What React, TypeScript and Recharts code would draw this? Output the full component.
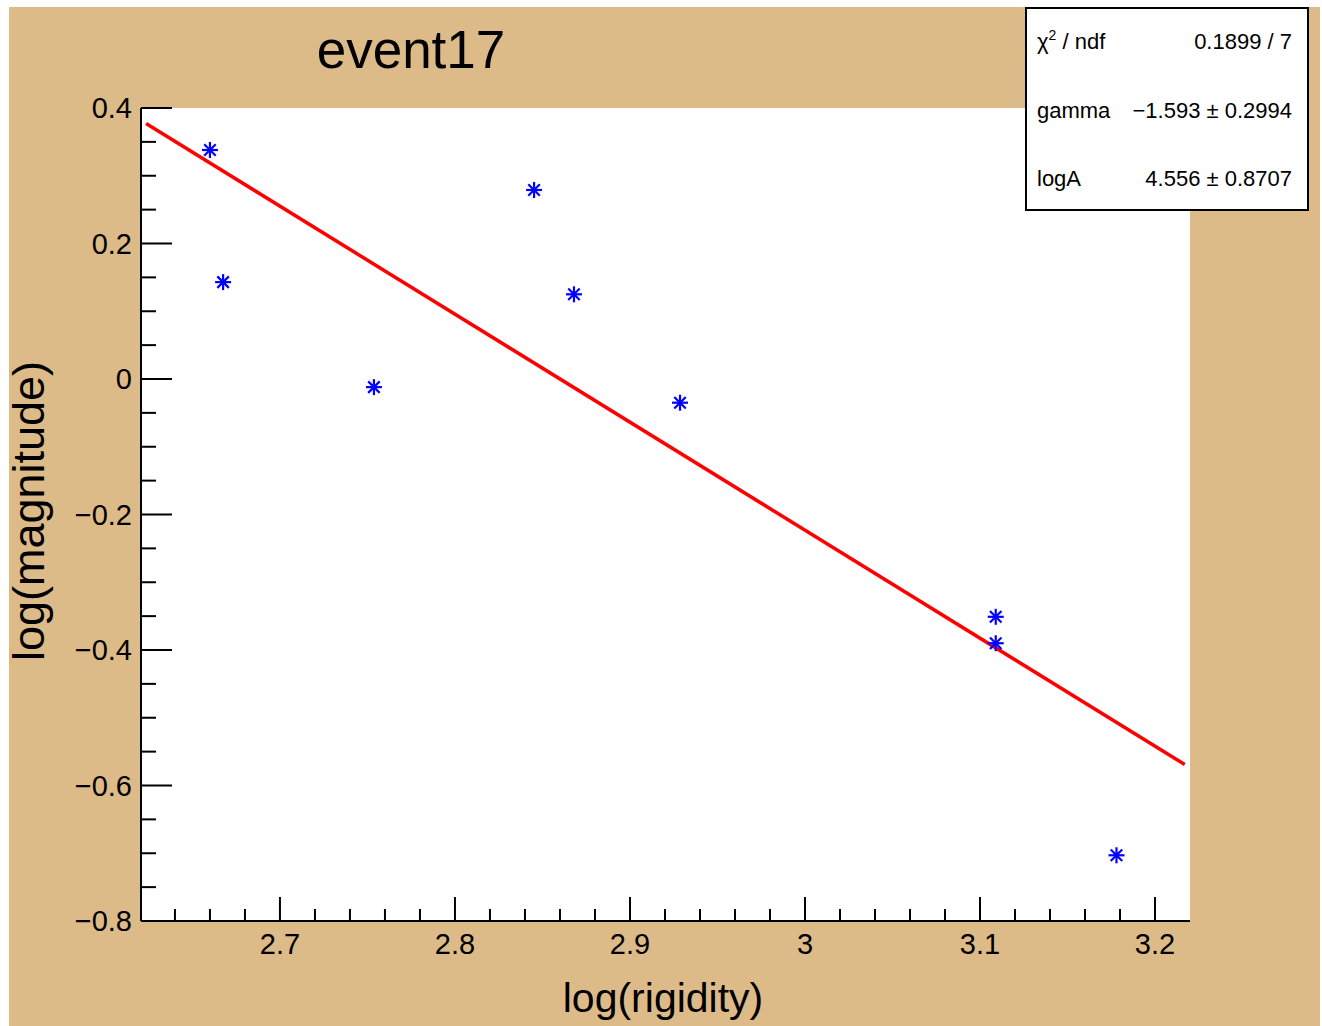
import { ScatterChart, Scatter, XAxis, YAxis, CartesianGrid } from "recharts";

// measured points: log(rigidity) vs log(magnitude)
const rigidity = [2.66, 2.6675, 2.7537, 2.8452, 2.868, 2.9286, 3.109, 3.109, 3.178];
const magnitude = [0.338, 0.143, -0.012, 0.279, 0.125, -0.035, -0.351, -0.39, -0.703];

// fitted line end points (gamma = -1.593, logA = 4.556)
const fitX = [2.6235, 3.217];
const fitY = [0.377, -0.569];

const xTicks = [
  2.64, 2.66, 2.68, 2.7, 2.72, 2.74, 2.76, 2.78, 2.8, 2.82, 2.84, 2.86, 2.88, 2.9, 2.92,
  2.94, 2.96, 2.98, 3.0, 3.02, 3.04, 3.06, 3.08, 3.1, 3.12, 3.14, 3.16, 3.18, 3.2,
];
const xMajor = [2.7, 2.8, 2.9, 3.0, 3.1, 3.2];
const xLabels = ["2.7", "2.8", "2.9", "3", "3.1", "3.2"];

const yTicks = [
  -0.8, -0.75, -0.7, -0.65, -0.6, -0.55, -0.5, -0.45, -0.4, -0.35, -0.3, -0.25, -0.2,
  -0.15, -0.1, -0.05, 0, 0.05, 0.1, 0.15, 0.2, 0.25, 0.3, 0.35, 0.4,
];
const yMajor = [-0.8, -0.6, -0.4, -0.2, 0, 0.2, 0.4];
const yLabels = ["\u22120.8", "\u22120.6", "\u22120.4", "\u22120.2", "0", "0.2", "0.4"];

const statNames = ["gamma", "logA"];
const statValues = ["\u22121.593 \u00b1 0.2994", "4.556 \u00b1 0.8707"];
const chi2 = "0.1899 / 7";

const points = rigidity.map((x, i) => ({ x, y: magnitude[i] }));
const fitLine = fitX.map((x, i) => ({ x, y: fitY[i] }));

const FONT = "'Liberation Sans', Arial, Helvetica, sans-serif";
const W = 1311;
const H = 1019;
const BG = "#dcbb89";

const findIdx = (list: number[], v: number) => list.findIndex((m) => Math.abs(m - v) < 1e-6);

const XTick = (props: any) => {
  const { x, y, payload } = props;
  const idx = findIdx(xMajor, payload.value);
  const len = idx >= 0 ? 24 : 12;
  return (
    <g>
      <line x1={x} x2={x} y1={y} y2={y - len} stroke="#000" strokeWidth={2} />
      {idx >= 0 && (
        <text x={x} y={y + 33} textAnchor="middle" fontSize={29} fontFamily={FONT} fill="#000">
          {xLabels[idx]}
        </text>
      )}
    </g>
  );
};

const YTick = (props: any) => {
  const { x, y, payload } = props;
  const idx = findIdx(yMajor, payload.value);
  const len = idx >= 0 ? 31 : 15;
  return (
    <g>
      <line x1={x} x2={x + len} y1={y} y2={y} stroke="#000" strokeWidth={2} />
      {idx >= 0 && (
        <text x={x - 9} y={y} dy="0.36em" textAnchor="end" fontSize={29} fontFamily={FONT} fill="#000">
          {yLabels[idx]}
        </text>
      )}
    </g>
  );
};

const Star = (props: any) => {
  const { cx, cy } = props;
  const r = 8;
  const d = r * 0.72;
  return (
    <g stroke="#0000ff" strokeWidth={2.2}>
      <line x1={cx - r} x2={cx + r} y1={cy} y2={cy} />
      <line x1={cx} x2={cx} y1={cy - r} y2={cy + r} />
      <line x1={cx - d} x2={cx + d} y1={cy - d} y2={cy + d} />
      <line x1={cx - d} x2={cx + d} y1={cy + d} y2={cy - d} />
    </g>
  );
};

export default function App() {
  return (
    <div style={{ position: "absolute", left: 9, top: 7, width: W, height: H, background: BG }}>
      <ScatterChart width={W} height={H} margin={{ top: 101, right: 130, bottom: 0, left: 0 }}>
        <CartesianGrid horizontal={false} vertical={false} fill="#ffffff" />
        <XAxis
          xAxisId="b"
          type="number"
          dataKey="x"
          domain={[2.6206, 3.22]}
          allowDataOverflow
          ticks={xTicks}
          interval={0}
          height={105}
          tickSize={0}
          tickMargin={0}
          tickLine={false}
          axisLine={{ stroke: "#000", strokeWidth: 2 }}
          tick={<XTick />}
        />
        <XAxis
          xAxisId="t"
          orientation="top"
          type="number"
          dataKey="x"
          domain={[2.6206, 3.22]}
          allowDataOverflow
          height={0}
          tick={false}
          tickLine={false}
          axisLine={{ stroke: "#000", strokeWidth: 2 }}
        />
        <YAxis
          yAxisId="l"
          type="number"
          dataKey="y"
          domain={[-0.8, 0.4]}
          allowDataOverflow
          ticks={yTicks}
          interval={0}
          width={132}
          tickSize={0}
          tickMargin={0}
          tickLine={false}
          axisLine={{ stroke: "#000", strokeWidth: 2 }}
          tick={<YTick />}
        />
        <YAxis
          yAxisId="r"
          orientation="right"
          type="number"
          dataKey="y"
          domain={[-0.8, 0.4]}
          allowDataOverflow
          width={0}
          tick={false}
          tickLine={false}
          axisLine={{ stroke: "#000", strokeWidth: 2 }}
        />
        <Scatter
          xAxisId="b"
          yAxisId="l"
          data={fitLine}
          line={{ stroke: "#ff0000", strokeWidth: 3.5 }}
          shape={() => <g />}
          isAnimationActive={false}
        />
        <Scatter xAxisId="b" yAxisId="l" data={points} shape={<Star />} isAnimationActive={false} />
      </ScatterChart>
      <svg
        width={W}
        height={H}
        style={{ position: "absolute", left: 0, top: 0, pointerEvents: "none", overflow: "visible" }}
        fontFamily={FONT}
      >
        <text x={402} y={61} textAnchor="middle" fontSize={53} fill="#000">
          event17
        </text>
        <text x={654} y={1005} textAnchor="middle" fontSize={41} fill="#000">
          log(rigidity)
        </text>
        <text x={35} y={504} textAnchor="middle" fontSize={45} fill="#000" transform="rotate(-90, 35, 504)">
          log(magnitude)
        </text>
        <rect x={1017} y={1} width={282} height={202} fill="#ffffff" stroke="#000" strokeWidth={2} />
        <text x={1028} y={42} fontSize={22} fill="#000">
          {"\u03c7"}
          <tspan dy={-9} fontSize={14}>2</tspan>
          <tspan dy={9}> / ndf</tspan>
        </text>
        <text x={1283} y={42} textAnchor="end" fontSize={22} fill="#000">
          {chi2}
        </text>
        {statNames.map((n, i) => (
          <g key={n}>
            <text x={1028} y={111 + i * 68} fontSize={22} fill="#000">
              {n}
            </text>
            <text x={1283} y={111 + i * 68} textAnchor="end" fontSize={22} fill="#000">
              {statValues[i]}
            </text>
          </g>
        ))}
      </svg>
    </div>
  );
}
